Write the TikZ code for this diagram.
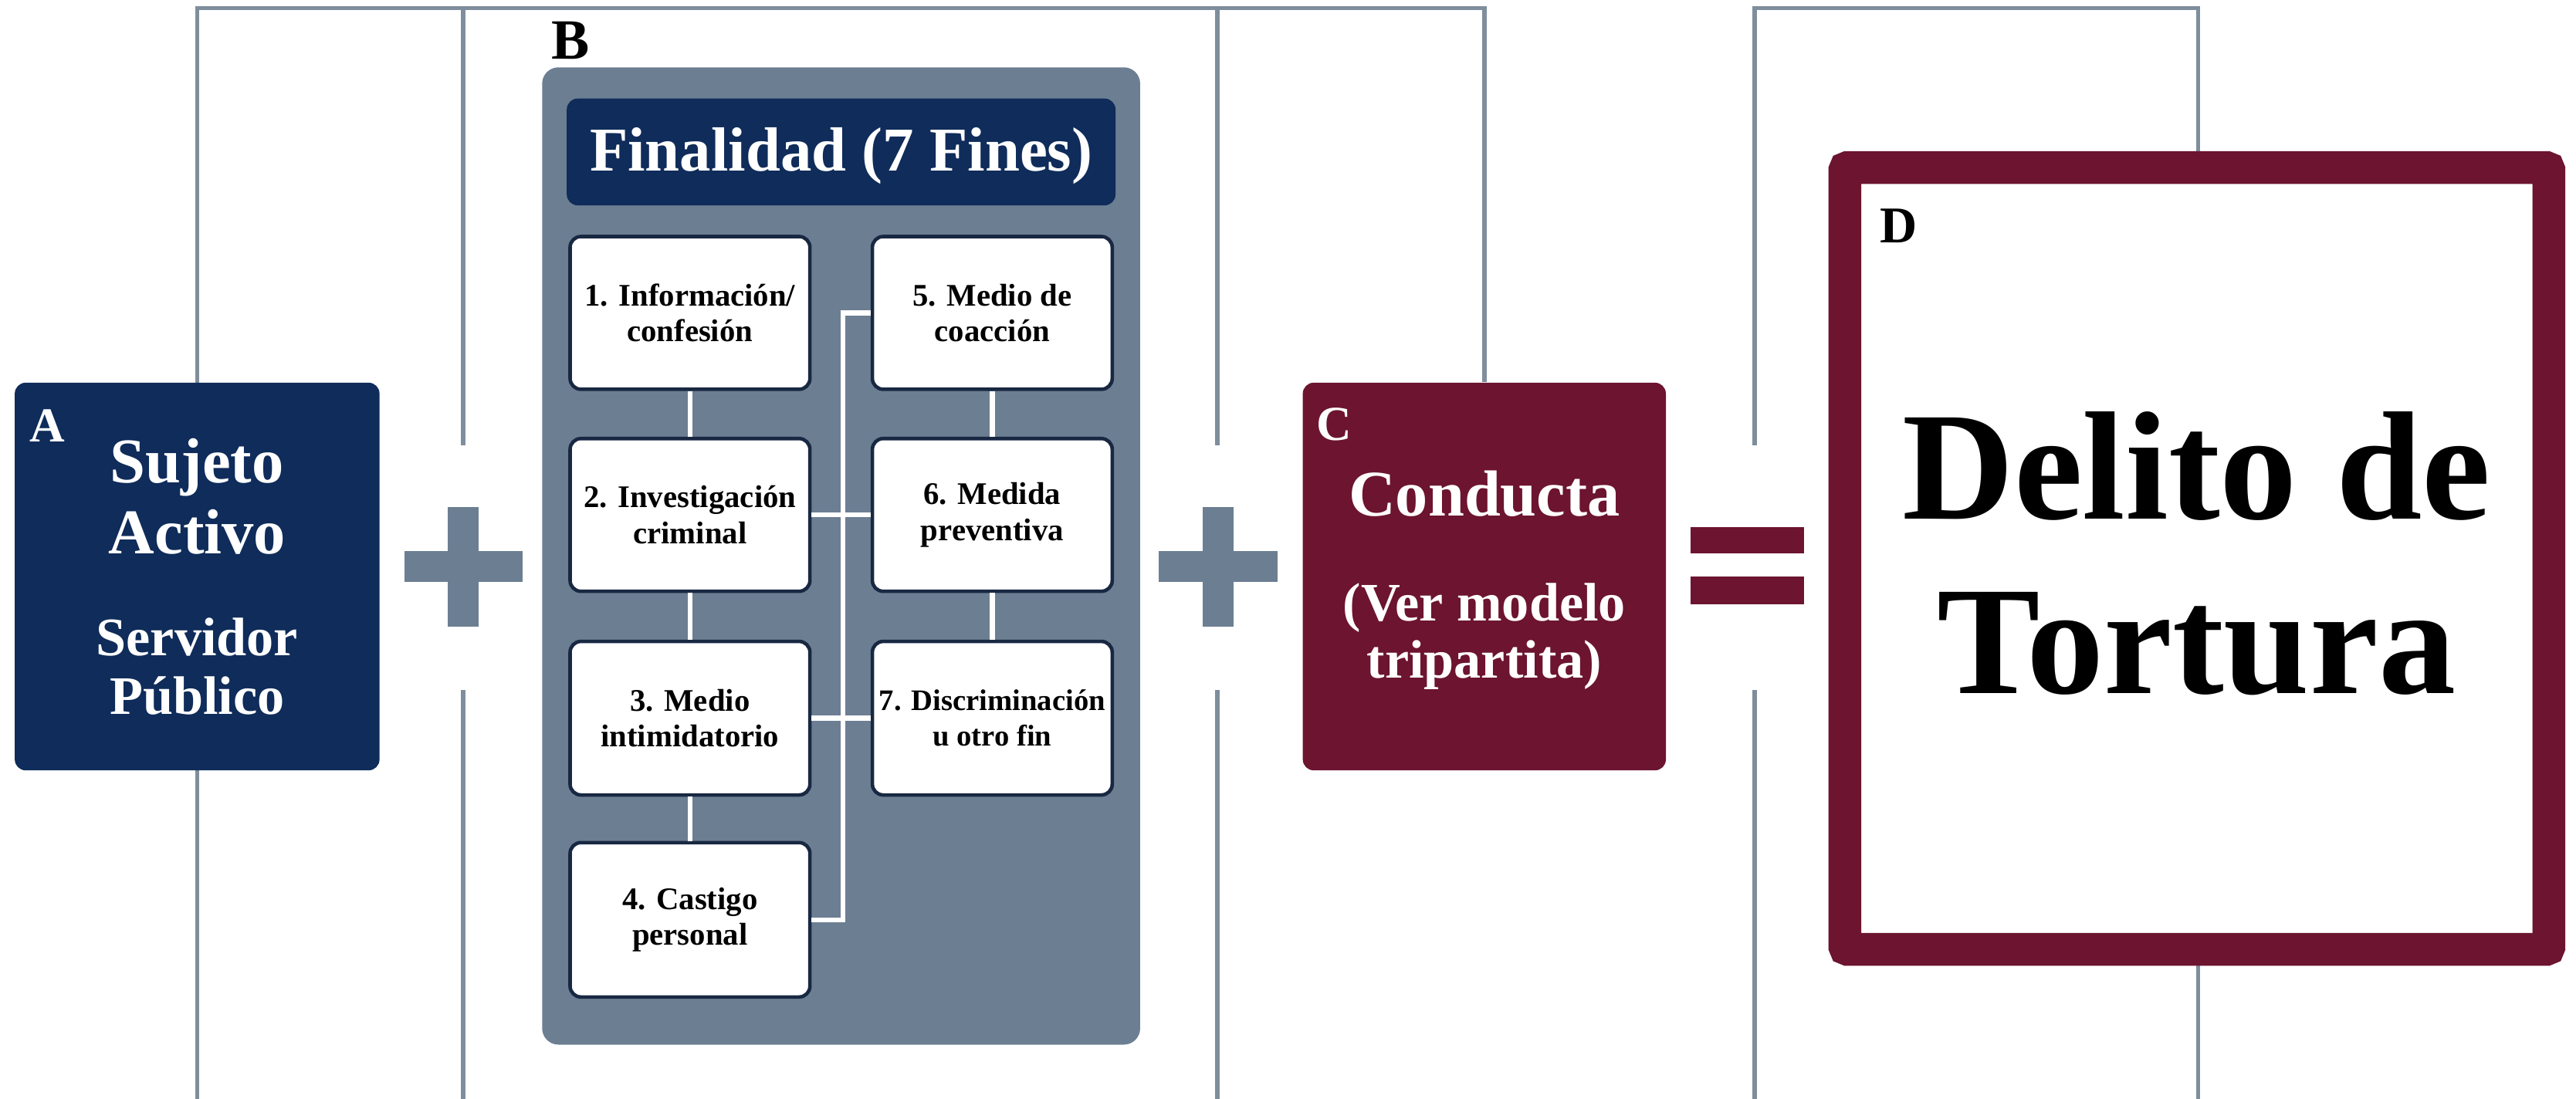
\documentclass[tikz,border=0pt]{standalone}
\usepackage{fontspec}
\setmainfont{Liberation Serif}
\usetikzlibrary{fit,backgrounds}

\definecolor{navy}{RGB}{15,44,90}
\definecolor{wine}{RGB}{108,20,48}
\definecolor{slate}{RGB}{108,126,146}
\definecolor{rule}{RGB}{127,142,156}
\definecolor{ink}{RGB}{25,40,66}

\tikzset{
  frame/.style={draw=rule, line width=1.6pt},
  block/.style={inner sep=0pt, rounded corners=4pt},
  fin/.style={block, draw=ink, fill=white, line width=1.3pt},
  fintext/.style={inner sep=0pt, align=center, font=\fontsize{11.6}{13.2}\selectfont\bfseries},
  link/.style={draw=white, line width=1.8pt},
  tag/.style={anchor=base, inner sep=0pt, font=\fontsize{18}{18}\selectfont\bfseries},
  say/.style={anchor=base, inner sep=0pt, text=white},
}

\begin{document}
\begin{tikzpicture}[x=0.02128cm, y=-0.02128cm]
    \useasboundingbox (0,0) rectangle (1568,669);

    % Nodes
    \node[block, fill=navy, fit={(9,233) (231,469)}] (A) {};
    \node[tag, text=white] (tagA) at (29,269) {A};
    \node[say, font=\fontsize{23.5}{23.5}\selectfont\bfseries] (suj) at (120,294) {Sujeto};
    \node[say, font=\fontsize{23.5}{23.5}\selectfont\bfseries] (act) at (120,337) {Activo};
    \node[say, font=\fontsize{20}{20}\selectfont\bfseries] (serv) at (120,399) {Servidor};
    \node[say, font=\fontsize{20}{20}\selectfont\bfseries] (pub) at (120,435) {Público};

    \node[block, rounded corners=6pt, fill=slate, fit={(330,41) (694,636)}] (B) {};
    \node[tag, font=\fontsize{21}{21}\selectfont\bfseries] (tagB) at (347.5,36) {B};
    \node[block, fill=navy, fit={(345,60) (679,125)}] (fines) {};
    \node[say, font=\fontsize{23}{23}\selectfont\bfseries] (finesT) at (512,104) {Finalidad (7 Fines)};

    \node[fin, fit={(347,144) (493,237)}] (f1) {};
    \node[fin, fit={(347,267) (493,360)}] (f2) {};
    \node[fin, fit={(347,390.5) (493,484)}] (f3) {};
    \node[fin, fit={(347,513) (493,607)}] (f4) {};
    \node[fin, fit={(531,144) (677,237)}] (f5) {};
    \node[fin, fit={(531,267) (677,360)}] (f6) {};
    \node[fin, fit={(531,390.5) (677,484)}] (f7) {};
    \node[fintext] (t1) at (f1) {1. Información/\\confesión};
    \node[fintext] (t2) at (f2) {2. Investigación\\criminal};
    \node[fintext] (t3) at (f3) {3. Medio\\intimidatorio};
    \node[fintext] (t4) at (f4) {4. Castigo\\personal};
    \node[fintext] (t5) at (f5) {5. Medio de\\coacción};
    \node[fintext] (t6) at (f6) {6. Medida\\preventiva};
    \node[fintext, font=\fontsize{11}{13.2}\selectfont\bfseries] (t7) at (f7) {7. Discriminación\\u otro fin};
    \coordinate (spine) at (513,0);

    \node[block, fill=wine, fit={(793,233) (1014,469)}] (C) {};
    \node[tag, text=white] (tagC) at (812,268) {C};
    \node[say, font=\fontsize{24}{24}\selectfont\bfseries] (cond) at (903.5,314) {Conducta};
    \node[say, font=\fontsize{20}{20}\selectfont\bfseries] (ver) at (903.5,378) {(Ver modelo};
    \node[say, font=\fontsize{20}{20}\selectfont\bfseries] (tri) at (903.5,413) {tripartita)};

    \node[draw=wine, fill=white, line width=12.1pt, rounded corners=1pt, inner sep=0pt,
      fit={(1123,102) (1551.5,578)}] (D) {};
    \node[tag, font=\fontsize{19}{19}\selectfont\bfseries] (tagD) at (1155.5,148) {D};
    \node[anchor=base, inner sep=0pt, font=\fontsize{57}{57}\selectfont\bfseries] (del) at (1337,316) {Delito de};
    \node[anchor=base, inner sep=0pt, font=\fontsize{57}{57}\selectfont\bfseries] (tort) at (1337,422) {Tortura};

    % Links
    \draw[link] (f1) -- (f2);
    \draw[link] (f2) -- (f3);
    \draw[link] (f3) -- (f4);
    \draw[link] (f5) -- (f6);
    \draw[link] (f6) -- (f7);
    \draw[link] (f4.east) -- (f4.east -| spine) |- (f5.west);
    \draw[link] (f2.east) -- (f6.west);
    \draw[link] (f3.east) -- (f7.west);

    % Signs
    \fill[slate] (246,335.5) rectangle (318,354.5);
    \fill[slate] (272.5,308.5) rectangle (291.5,381.5);
    \fill[slate] (705.5,335.5) rectangle (777.5,354.5);
    \fill[slate] (732,308.5) rectangle (751,381.5);
    \fill[wine] (1029,321) rectangle (1098,337);
    \fill[wine] (1029,351) rectangle (1098,368);

    % Frame
    \begin{scope}[on background layer]
        \draw[frame] (120,669) -- (120,5) -| (C.north);
        \draw[frame] (282,5) -- (282,271) (282,420) -- (282,669);
        \draw[frame] (741,5) -- (741,271) (741,420) -- (741,669);
        \draw[frame] (1068,271) -- (1068,5) -- (1338,5) -- (1338,669);
        \draw[frame] (1068,420) -- (1068,669);
    \end{scope}
\end{tikzpicture}
\end{document}
